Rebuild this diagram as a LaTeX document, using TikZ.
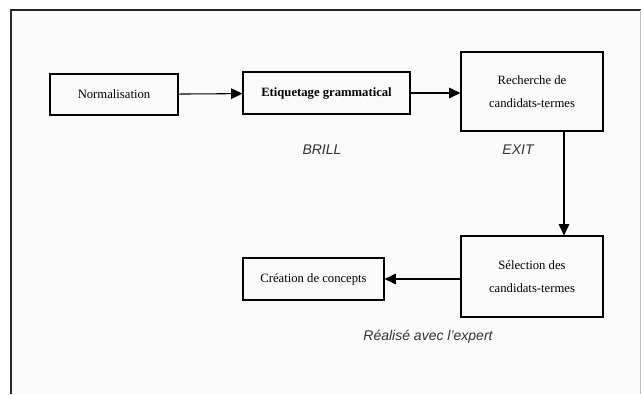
\documentclass[tikz,border=0pt]{standalone}
\usepackage{fontspec}
\setmainfont{Liberation Serif}
\setsansfont{Liberation Sans}
\usetikzlibrary{arrows.meta}

\begin{document}
\begin{tikzpicture}[x=0.75pt, y=-0.75pt]
\tikzset{boite/.style={draw, line width=0.9pt, inner sep=0pt, align=center,
    font=\fontsize{9.5}{17}\selectfont},
  fleche/.style={line width=0.8pt, -{Triangle[length=8.5pt, width=8pt]}},
  outil/.style={font=\sffamily\itshape\fontsize{10.5}{12}\selectfont, text=black!80}}
\useasboundingbox (0,0) rectangle (641,394);
\fill[black!2] (11,10) rectangle (640,394);
\draw[line width=1.2pt, black!85] (641,10) -- (11,10) -- (11,394);
\draw[black!25] (640,10) -- (640,394);
\node[boite, minimum width=96pt, minimum height=30.75pt] (N) at (114,94.5) {Normalisation};
\node[boite, minimum width=125.25pt, minimum height=31.5pt] (E) at (326.5,93) {\textbf{Etiquetage grammatical}};
\node[boite, minimum width=106.5pt, minimum height=59.25pt] (R) at (532,91.5) {Recherche de\\candidats-termes};
\node[boite, minimum width=106.5pt, minimum height=60.75pt] (S) at (532,276.5) {Sélection des\\candidats-termes};
\node[boite, minimum width=105.75pt, minimum height=31.5pt] (C) at (313.5,279) {Création de concepts};
\node[outil] (B) at (322,150) {BRILL};
\node[outil] (X) at (518,150) {EXIT};
\node[outil] (A) at (428,337) {Réalisé avec l'expert};
\draw[fleche] (N) -- (E);
\draw[fleche] (E) -- (E -| R.west);
\draw[fleche] ([xshift=24pt]R.south) -- ([xshift=24pt]S.north);
\draw[fleche] (S.west |- C) -- (C);
\end{tikzpicture}
\end{document}
